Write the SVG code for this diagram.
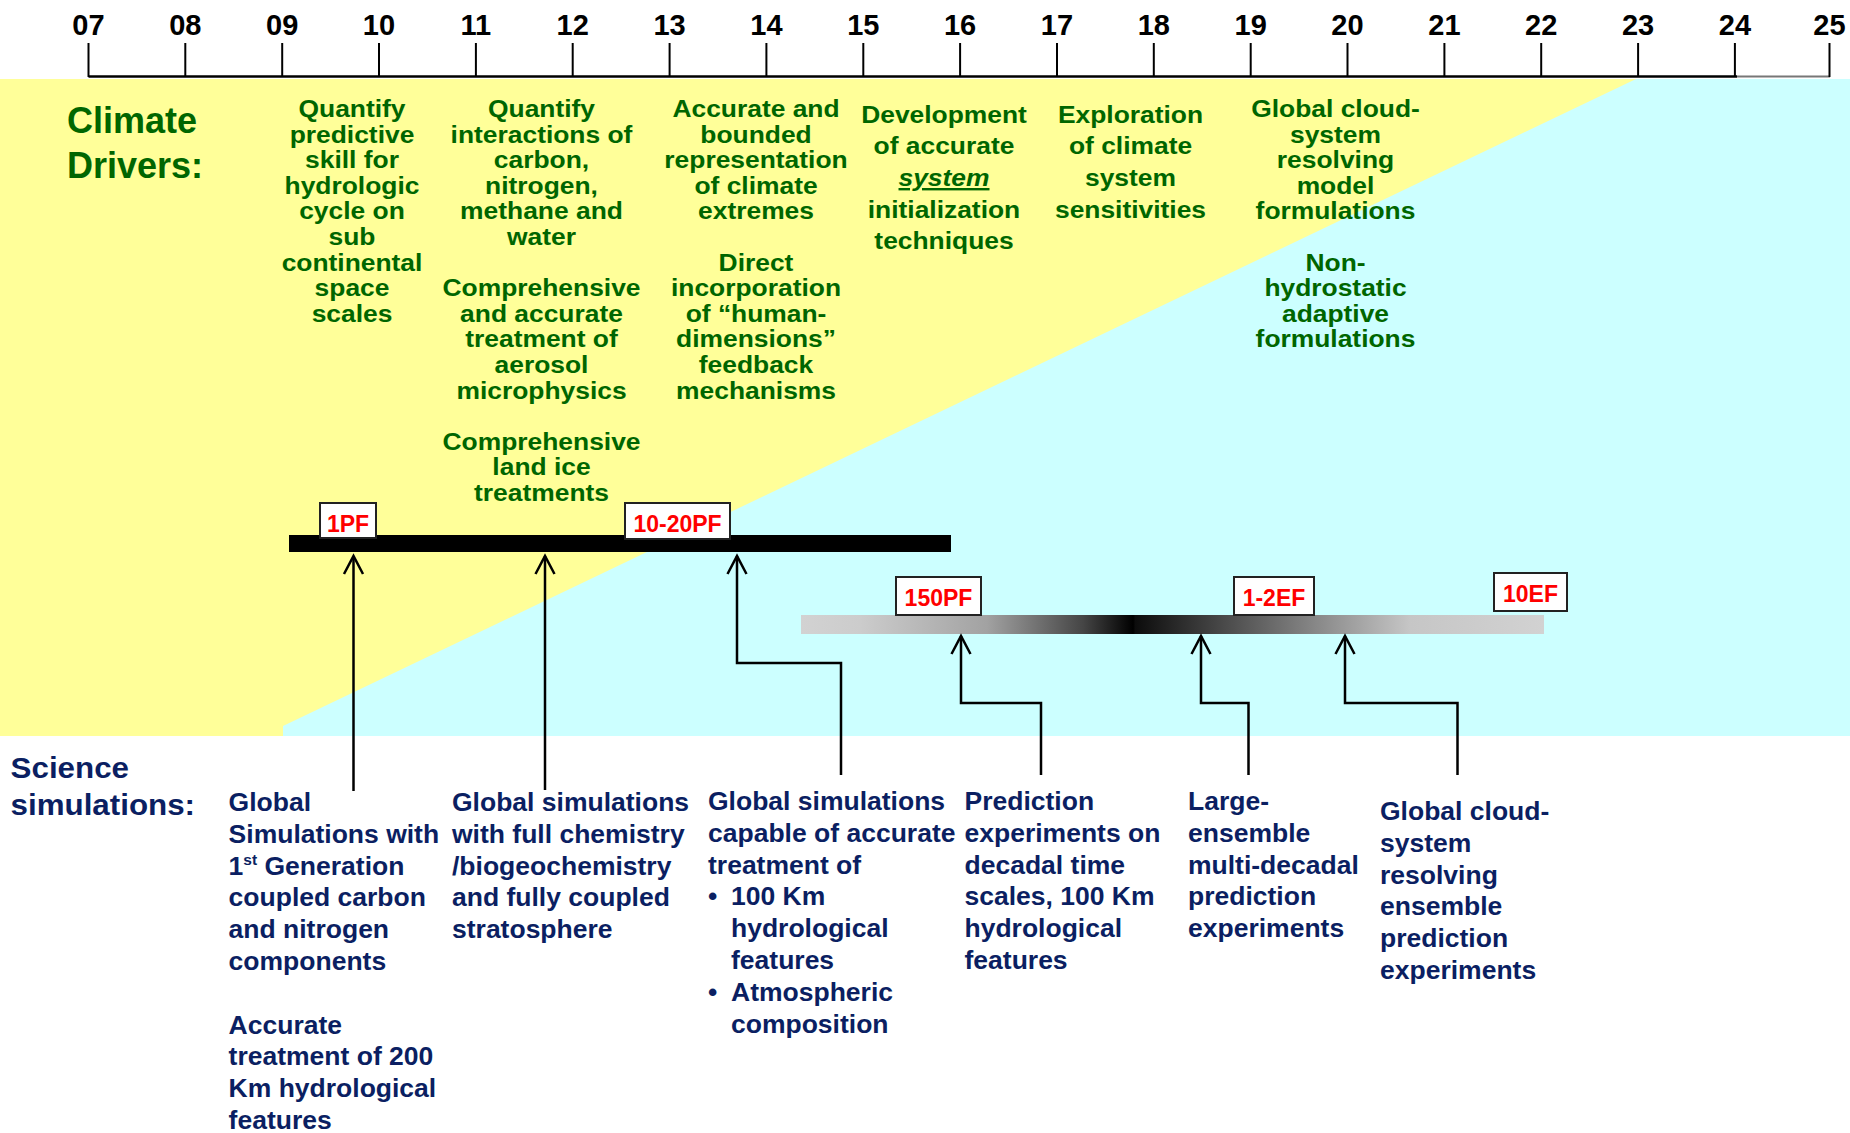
<svg xmlns="http://www.w3.org/2000/svg" width="1850" height="1133" viewBox="0 0 1850 1133">
<style>
.yr{font-family:"Liberation Sans",Arial,sans-serif;font-weight:bold;font-size:29px;fill:#000;text-anchor:middle}
.tick{stroke:#000;stroke-width:2}
.gr{font-family:"Liberation Sans",Arial,sans-serif;font-weight:bold;font-size:24px;fill:#006600;text-anchor:middle}
.hd{font-family:"Liberation Sans",Arial,sans-serif;font-weight:bold;font-size:36px;fill:#006600}
.bl{font-family:"Liberation Sans",Arial,sans-serif;font-weight:bold;font-size:26.5px;fill:#0b1f62}
.bh{font-family:"Liberation Sans",Arial,sans-serif;font-weight:bold;font-size:29px;fill:#0b1f62}
.box{fill:#fff;stroke:#222;stroke-width:2}
.rd{font-family:"Liberation Sans",Arial,sans-serif;font-weight:bold;font-size:23px;fill:#ff0000;text-anchor:middle}
.con{fill:none;stroke:#000;stroke-width:2.5;marker-end:url(#arr)}
</style>
<defs>
<marker id="arr" markerUnits="userSpaceOnUse" markerWidth="24" markerHeight="24" viewBox="-20 -12 24 24" refX="0" refY="0" orient="auto">
<path d="M-18,-9.5 L0,0 L-18,9.5" fill="none" stroke="#000" stroke-width="2.5"/>
</marker>
<linearGradient id="grad" x1="0" y1="0" x2="1" y2="0">
<stop offset="0" stop-color="#d2d2d2"/>
<stop offset="0.08" stop-color="#cccccc"/>
<stop offset="0.25" stop-color="#a2a2a2"/>
<stop offset="0.38" stop-color="#454545"/>
<stop offset="0.447" stop-color="#000000"/>
<stop offset="0.45" stop-color="#0c0c0c"/>
<stop offset="0.55" stop-color="#404040"/>
<stop offset="0.73" stop-color="#9a9a9a"/>
<stop offset="0.82" stop-color="#c6c6c6"/>
<stop offset="1" stop-color="#d2d2d2"/>
</linearGradient>
</defs>

<rect x="0" y="0" width="1850" height="1133" fill="#ffffff"/>
<rect id="bg-yellow" x="0" y="79" width="1850" height="657" fill="#ffff99"/>
<polygon id="bg-cyan" points="1636,79 1850,79 1850,736 283,736 283,726" fill="#ccffff"/>

<g id="timeline">
<line x1="88.5" y1="76.5" x2="1737" y2="76.5" stroke="#000" stroke-width="2.7"/>
<line x1="1737" y1="76.5" x2="1830" y2="76.5" stroke="#777" stroke-width="2"/>
<line class="tick" x1="88.5" y1="43" x2="88.5" y2="77"/>
<line class="tick" x1="185.3" y1="43" x2="185.3" y2="77"/>
<line class="tick" x1="282.2" y1="43" x2="282.2" y2="77"/>
<line class="tick" x1="379" y1="43" x2="379" y2="77"/>
<line class="tick" x1="475.9" y1="43" x2="475.9" y2="77"/>
<line class="tick" x1="572.7" y1="43" x2="572.7" y2="77"/>
<line class="tick" x1="669.6" y1="43" x2="669.6" y2="77"/>
<line class="tick" x1="766.4" y1="43" x2="766.4" y2="77"/>
<line class="tick" x1="863.3" y1="43" x2="863.3" y2="77"/>
<line class="tick" x1="960.1" y1="43" x2="960.1" y2="77"/>
<line class="tick" x1="1057" y1="43" x2="1057" y2="77"/>
<line class="tick" x1="1153.8" y1="43" x2="1153.8" y2="77"/>
<line class="tick" x1="1250.7" y1="43" x2="1250.7" y2="77"/>
<line class="tick" x1="1347.5" y1="43" x2="1347.5" y2="77"/>
<line class="tick" x1="1444.4" y1="43" x2="1444.4" y2="77"/>
<line class="tick" x1="1541.2" y1="43" x2="1541.2" y2="77"/>
<line class="tick" x1="1638.1" y1="43" x2="1638.1" y2="77"/>
<line class="tick" x1="1734.9" y1="43" x2="1734.9" y2="77"/>
<line class="tick" x1="1829.5" y1="43" x2="1829.5" y2="77"/>
<text class="yr" x="88.5" y="34.5">07</text>
<text class="yr" x="185.3" y="34.5">08</text>
<text class="yr" x="282.2" y="34.5">09</text>
<text class="yr" x="379" y="34.5">10</text>
<text class="yr" x="475.9" y="34.5">11</text>
<text class="yr" x="572.7" y="34.5">12</text>
<text class="yr" x="669.6" y="34.5">13</text>
<text class="yr" x="766.4" y="34.5">14</text>
<text class="yr" x="863.3" y="34.5">15</text>
<text class="yr" x="960.1" y="34.5">16</text>
<text class="yr" x="1057" y="34.5">17</text>
<text class="yr" x="1153.8" y="34.5">18</text>
<text class="yr" x="1250.7" y="34.5">19</text>
<text class="yr" x="1347.5" y="34.5">20</text>
<text class="yr" x="1444.4" y="34.5">21</text>
<text class="yr" x="1541.2" y="34.5">22</text>
<text class="yr" x="1638.1" y="34.5">23</text>
<text class="yr" x="1734.9" y="34.5">24</text>
<text class="yr" x="1829.5" y="34.5">25</text>
</g>

<g id="label-climate-drivers">
<text class="hd" x="67" y="133">Climate</text>
<text class="hd" x="67" y="178">Drivers:</text>
</g>

<g id="driver-1" transform="translate(352,0) scale(1.1,1)">
<text class="gr"><tspan x="0" y="117">Quantify</tspan><tspan x="0" y="142.6">predictive</tspan><tspan x="0" y="168.2">skill for</tspan><tspan x="0" y="193.8">hydrologic</tspan><tspan x="0" y="219.4">cycle on</tspan><tspan x="0" y="245">sub</tspan><tspan x="0" y="270.6">continental</tspan><tspan x="0" y="296.2">space</tspan><tspan x="0" y="321.8">scales</tspan></text>
</g>
<g id="driver-2" transform="translate(541.5,0) scale(1.1,1)">
<text class="gr"><tspan x="0" y="117">Quantify</tspan><tspan x="0" y="142.6">interactions of</tspan><tspan x="0" y="168.2">carbon,</tspan><tspan x="0" y="193.8">nitrogen,</tspan><tspan x="0" y="219.4">methane and</tspan><tspan x="0" y="245">water</tspan><tspan x="0" y="296.2">Comprehensive</tspan><tspan x="0" y="321.8">and accurate</tspan><tspan x="0" y="347.4">treatment of</tspan><tspan x="0" y="373">aerosol</tspan><tspan x="0" y="398.6">microphysics</tspan><tspan x="0" y="449.8">Comprehensive</tspan><tspan x="0" y="475.4">land ice</tspan><tspan x="0" y="501">treatments</tspan></text>
</g>
<g id="driver-3" transform="translate(756,0) scale(1.1,1)">
<text class="gr"><tspan x="0" y="117">Accurate and</tspan><tspan x="0" y="142.6">bounded</tspan><tspan x="0" y="168.2">representation</tspan><tspan x="0" y="193.8">of climate</tspan><tspan x="0" y="219.4">extremes</tspan><tspan x="0" y="270.6">Direct</tspan><tspan x="0" y="296.2">incorporation</tspan><tspan x="0" y="321.8">of “human-</tspan><tspan x="0" y="347.4">dimensions”</tspan><tspan x="0" y="373">feedback</tspan><tspan x="0" y="398.6">mechanisms</tspan></text>
</g>
<g id="driver-4" transform="translate(944,0) scale(1.1,1)">
<text class="gr"><tspan x="0" y="122.7">Development</tspan><tspan x="0" y="154.4">of accurate</tspan><tspan x="0" y="186.1" font-style="italic" text-decoration="underline">system</tspan><tspan x="0" y="217.8">initialization</tspan><tspan x="0" y="249.5">techniques</tspan></text>
</g>
<g id="driver-5" transform="translate(1130.5,0) scale(1.1,1)">
<text class="gr"><tspan x="0" y="122.7">Exploration</tspan><tspan x="0" y="154.4">of climate</tspan><tspan x="0" y="186.1">system</tspan><tspan x="0" y="217.8">sensitivities</tspan></text>
</g>
<g id="driver-6" transform="translate(1335.5,0) scale(1.1,1)">
<text class="gr"><tspan x="0" y="117">Global cloud-</tspan><tspan x="0" y="142.6">system</tspan><tspan x="0" y="168.2">resolving</tspan><tspan x="0" y="193.8">model</tspan><tspan x="0" y="219.4">formulations</tspan><tspan x="0" y="270.6">Non-</tspan><tspan x="0" y="296.2">hydrostatic</tspan><tspan x="0" y="321.8">adaptive</tspan><tspan x="0" y="347.4">formulations</tspan></text>
</g>

<g id="bar-petascale">
<rect x="289" y="535" width="662" height="17" fill="#000"/>
</g>
<g id="bar-exascale">
<rect x="801" y="615" width="743" height="19" fill="url(#grad)"/>
</g>

<g id="connectors">
<path class="con" d="M353.5,791 V556"/>
<path class="con" d="M545,790 V556"/>
<path class="con" d="M841,775 V663 H737 V556"/>
<path class="con" d="M1041,775 V703 H961 V636"/>
<path class="con" d="M1248.5,775 V703 H1201 V636"/>
<path class="con" d="M1457.5,775 V703 H1345 V636"/>
</g>

<g id="label-1PF"><rect class="box" x="320" y="503" width="56" height="35"/><text class="rd" x="348" y="531.5">1PF</text></g>
<g id="label-10-20PF"><rect class="box" x="625" y="503" width="105" height="36"/><text class="rd" x="677.5" y="532">10-20PF</text></g>
<g id="label-150PF"><rect class="box" x="896" y="577" width="85" height="38"/><text class="rd" x="938.5" y="606">150PF</text></g>
<g id="label-1-2EF"><rect class="box" x="1234" y="577" width="80" height="38"/><text class="rd" x="1274" y="606">1-2EF</text></g>
<g id="label-10EF"><rect class="box" x="1494" y="573" width="73" height="38"/><text class="rd" x="1530.5" y="602">10EF</text></g>

<g id="label-science-simulations" transform="translate(10.6,0) scale(1.08,1)">
<text class="bh" x="0" y="778">Science</text>
<text class="bh" x="0" y="815">simulations:</text>
</g>

<g id="sim-1">
<text class="bl"><tspan x="228.6" y="811">Global</tspan><tspan x="228.6" y="842.8">Simulations with</tspan><tspan x="228.6" y="874.6">1<tspan font-size="15.5" dy="-10">st</tspan><tspan dy="10"> Generation</tspan></tspan><tspan x="228.6" y="906.4">coupled carbon</tspan><tspan x="228.6" y="938.2">and nitrogen</tspan><tspan x="228.6" y="970">components</tspan><tspan x="228.6" y="1033.6">Accurate</tspan><tspan x="228.6" y="1065.4">treatment of 200</tspan><tspan x="228.6" y="1097.2">Km hydrological</tspan><tspan x="228.6" y="1129">features</tspan></text>
</g>
<g id="sim-2">
<text class="bl"><tspan x="452" y="811">Global simulations</tspan><tspan x="452" y="842.8">with full chemistry</tspan><tspan x="452" y="874.6">/biogeochemistry</tspan><tspan x="452" y="906.4">and fully coupled</tspan><tspan x="452" y="938.2">stratosphere</tspan></text>
</g>
<g id="sim-3">
<text class="bl"><tspan x="708" y="810">Global simulations</tspan><tspan x="708" y="841.8">capable of accurate</tspan><tspan x="708" y="873.6">treatment of</tspan><tspan x="708" y="905.4">•</tspan><tspan x="731" y="905.4">100 Km</tspan><tspan x="731" y="937.2">hydrological</tspan><tspan x="731" y="969">features</tspan><tspan x="708" y="1000.8">•</tspan><tspan x="731" y="1000.8">Atmospheric</tspan><tspan x="731" y="1032.6">composition</tspan></text>
</g>
<g id="sim-4">
<text class="bl"><tspan x="964.5" y="810">Prediction</tspan><tspan x="964.5" y="841.8">experiments on</tspan><tspan x="964.5" y="873.6">decadal time</tspan><tspan x="964.5" y="905.4">scales, 100 Km</tspan><tspan x="964.5" y="937.2">hydrological</tspan><tspan x="964.5" y="969">features</tspan></text>
</g>
<g id="sim-5">
<text class="bl"><tspan x="1188" y="810">Large-</tspan><tspan x="1188" y="841.8">ensemble</tspan><tspan x="1188" y="873.6">multi-decadal</tspan><tspan x="1188" y="905.4">prediction</tspan><tspan x="1188" y="937.2">experiments</tspan></text>
</g>
<g id="sim-6">
<text class="bl"><tspan x="1380" y="820">Global cloud-</tspan><tspan x="1380" y="851.8">system</tspan><tspan x="1380" y="883.6">resolving</tspan><tspan x="1380" y="915.4">ensemble</tspan><tspan x="1380" y="947.2">prediction</tspan><tspan x="1380" y="979">experiments</tspan></text>
</g>
</svg>
